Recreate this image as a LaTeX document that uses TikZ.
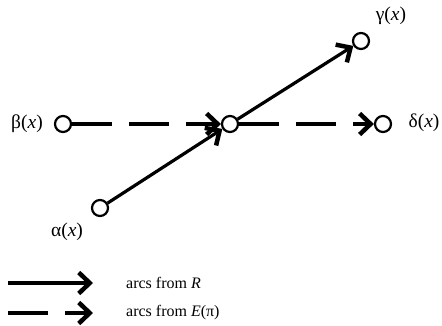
\documentclass[tikz,border=0pt]{standalone}
\usepackage{fontspec}
\setmainfont{Liberation Serif}
\usetikzlibrary{arrows.meta}
\begin{document}
\begin{tikzpicture}[x=1pt,y=-1pt,
  vertex/.style={circle,draw,line width=2.2pt,minimum size=16pt,inner sep=0pt},
  lbl/.style={font=\fontsize{19.5}{22}\selectfont,inner sep=0pt},
  leg/.style={font=\fontsize{16}{19}\selectfont,inner sep=0pt},
  arc/.style={line width=3.2pt,line join=miter,-{Straight Barb[length=11pt,width=21pt,line width=4.5pt]}},
  dasharc/.style={arc,dash pattern=on 40pt off 17pt}]
\useasboundingbox (0,0) rectangle (442,325);

% vertices
\node[vertex] (b) at (63,124) {};
\node[vertex] (c) at (230,124) {};
\node[vertex] (d) at (383,124) {};
\node[vertex] (g) at (361,41) {};
\node[vertex] (a) at (100,208) {};

% labels
\node[lbl] (lb) at (27,124) {β(\textit{x})};
\node[lbl] (ld) at (424,123) {δ(\textit{x})};
\node[lbl] (lg) at (391,16) {γ(\textit{x})};
\node[lbl] (la) at (67,232) {α(\textit{x})};

% arcs
\draw[dasharc] (b) -- (c);
\draw[dasharc] (c) -- (d);
\draw[arc] (a) -- (c);
\draw[arc] (c) -- (g);

% legend
\coordinate (s1) at (8,283);
\coordinate (e1) at (93,283);
\coordinate (s2) at (8,313);
\coordinate (e2) at (93,313);
\draw[arc] (s1) -- (e1);
\draw[arc,dash pattern=on 40pt off 17pt on 40pt] (s2) -- (e2);
\node[leg,anchor=west] (t1) at (126,283) {arcs from \textit{R}};
\node[leg,anchor=west] (t2) at (126,313) {arcs from \textit{E}(π)};
\end{tikzpicture}
\end{document}
